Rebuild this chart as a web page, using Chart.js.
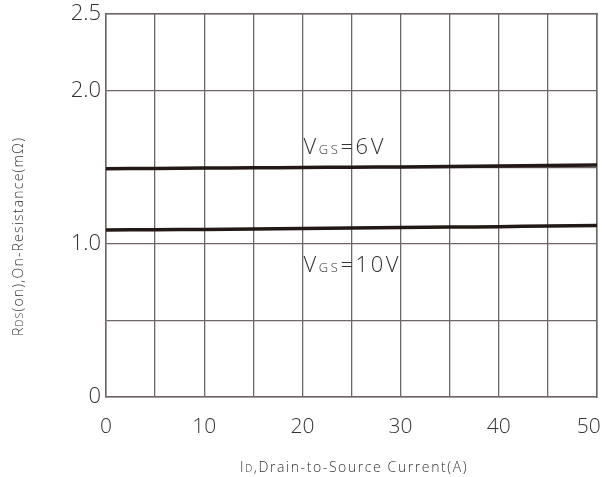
<!DOCTYPE html>
<html>
<head>
<meta charset="utf-8">
<script src="https://cdn.jsdelivr.net/npm/chart.js@4/dist/chart.umd.min.js"></script>
<style>
  html, body { margin: 0; padding: 0; background: #fff; }
  #wrap { width: 605px; height: 477px; position: relative; }
</style>
</head>
<body>
<div id="wrap"><canvas id="c" width="605" height="477"></canvas></div>
<script>
// Drain current (A)
const currents = [0, 5, 10, 15, 20, 25, 30, 35, 40, 45, 50];
// On-resistance (mΩ) for each gate drive
const rdsVgs6 = [1.490, 1.492, 1.494, 1.496, 1.498, 1.500, 1.502, 1.505, 1.508, 1.511, 1.515];
const rdsVgs10 = [1.090, 1.092, 1.094, 1.097, 1.100, 1.103, 1.106, 1.109, 1.112, 1.116, 1.120];

const yTickValues = [0, 0.5, 1.0, 1.5, 2.0, 2.5];
const yTickLabels = ['0', '', '1.0', '', '2.0', '2.5'];
const xTickValues = [0, 5, 10, 15, 20, 25, 30, 35, 40, 45, 50];
// trailing spaces keep the last label inside the canvas
const xTickLabels = ['0', '', '10', '', '20', '', '30', '', '40', '', '50   '];

// Curve labels: [x, y] in data units, text runs (normal / small)
const curveLabels = [
  { at: [20, 1.64], runs: [['V', 22], ['GS', 13], ['=6V', 22]] },
  { at: [20, 0.87], runs: [['V', 22], ['GS', 13], ['=10V', 22]] }
];
const xTitleRuns = [['I', 14], ['D', 10], [',Drain-to-Source Current(A)', 14]];
const yTitleRuns = [['R', 14], ['DS', 10], ['(on),On-Resistance(mΩ)', 14]];

const FONT = '"Open Sans", "Noto Sans", "Liberation Sans", sans-serif';
const WEIGHT = '300';
const TEXT = '#333333';
const GRID = '#6e6664';

// Draws a row of text runs left to right from (x, y), sharing one baseline
function drawRuns(ctx, runs, x, y, spacing) {
  ctx.save();
  ctx.textBaseline = 'alphabetic';
  ctx.textAlign = 'left';
  ctx.fillStyle = TEXT;
  ctx.letterSpacing = spacing + 'px';
  let cx = x;
  runs.forEach(r => {
    ctx.font = WEIGHT + ' ' + r[1] + 'px ' + FONT;
    ctx.fillText(r[0], cx, y);
    cx += ctx.measureText(r[0]).width;
  });
  ctx.restore();
}

const textPlugin = {
  id: 'textLayer',
  afterDatasetsDraw(chart) {
    const ctx = chart.ctx;
    const xs = chart.scales.x, ys = chart.scales.y;
    curveLabels.forEach(l => {
      drawRuns(ctx, l.runs, xs.getPixelForValue(l.at[0]) + 1, ys.getPixelForValue(l.at[1]) + 8, 2.6);
    });
    drawRuns(ctx, xTitleRuns, 240, 472, 1.6);
    ctx.save();
    ctx.translate(23, 336);
    ctx.rotate(-Math.PI / 2);
    drawRuns(ctx, yTitleRuns, 0, 0, 1.2);
    ctx.restore();
  }
};

new Chart(document.getElementById('c'), {
  type: 'line',
  data: {
    labels: currents,
    datasets: [
      { data: currents.map((x, i) => ({ x, y: rdsVgs6[i] })), borderColor: '#231815', borderWidth: 3.5, pointRadius: 0, tension: 0.3 },
      { data: currents.map((x, i) => ({ x, y: rdsVgs10[i] })), borderColor: '#231815', borderWidth: 3.5, pointRadius: 0, tension: 0.3 }
    ]
  },
  options: {
    responsive: false,
    animation: false,
    layout: { padding: { top: 14, right: 8, left: 0, bottom: 0 } },
    plugins: { legend: { display: false }, tooltip: { enabled: false } },
    scales: {
      x: {
        type: 'linear', min: 0, max: 50,
        afterBuildTicks: s => { s.ticks = xTickValues.map(v => ({ value: v })); },
        afterFit: s => { s.height = 80; s.paddingLeft = 0; s.paddingRight = 0; },
        ticks: {
          autoSkip: false, maxRotation: 0, padding: 17,
          color: TEXT, font: { family: FONT, size: 21, weight: WEIGHT },
          callback: (v, i) => xTickLabels[i]
        },
        grid: { color: GRID, lineWidth: 1.3, drawTicks: false },
        border: { color: GRID, width: 1.5 }
      },
      y: {
        type: 'linear', min: 0, max: 2.5,
        afterBuildTicks: s => { s.ticks = yTickValues.map(v => ({ value: v })); },
        afterFit: s => { s.width = 106; s.paddingTop = 0; s.paddingBottom = 0; },
        ticks: {
          autoSkip: false, padding: 5,
          color: TEXT, font: { family: FONT, size: 22, weight: WEIGHT },
          callback: (v, i) => yTickLabels[i]
        },
        grid: { color: GRID, lineWidth: 1.3, drawTicks: false },
        border: { color: GRID, width: 1.5 }
      },
      x2: { position: 'top', type: 'linear', min: 0, max: 50, display: true,
        ticks: { display: false }, grid: { display: false, drawTicks: false },
        border: { color: GRID, width: 1.5 },
        afterFit: s => { s.height = 0; s.paddingLeft = 0; s.paddingRight = 0; } },
      y2: { position: 'right', type: 'linear', min: 0, max: 2.5, display: true,
        ticks: { display: false }, grid: { display: false, drawTicks: false },
        border: { color: GRID, width: 1.5 },
        afterFit: s => { s.width = 0; s.paddingTop = 0; s.paddingBottom = 0; } }
    }
  },
  plugins: [textPlugin]
});
</script>
</body>
</html>
